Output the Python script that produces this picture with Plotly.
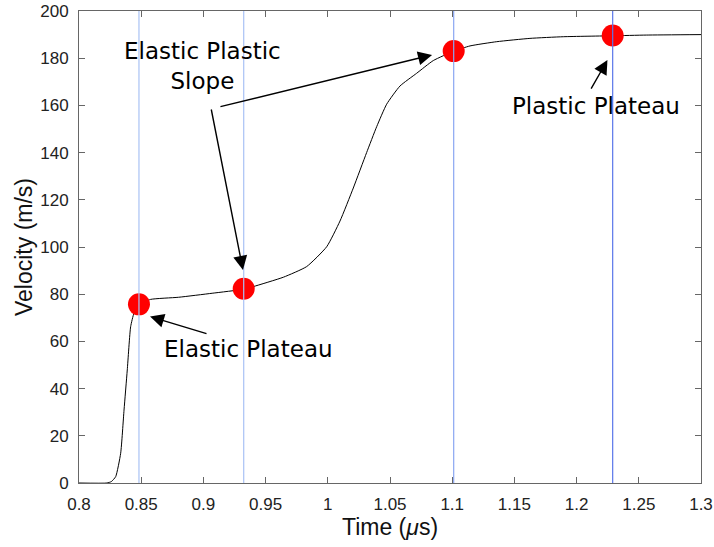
import plotly.graph_objects as go

# ---- data ----
time_us = [0.800, 0.8225, 0.826, 0.8295, 0.8335, 0.8362, 0.8388, 0.8415, 0.8442, 0.8482,
           0.8576, 0.880, 0.907, 0.9324, 0.940, 0.9643, 0.983, 0.9991, 1.0098, 1.0205,
           1.0312, 1.0393, 1.0473, 1.058, 1.0714, 1.0848, 1.1014, 1.1143, 1.1358, 1.1625,
           1.1893, 1.229, 1.256, 1.300]
velocity = [0.0, 0.0, 0.6, 2.7, 12.6, 30.9, 47.9, 66.2, 72.0, 75.7,
            77.8, 78.7, 80.4, 82.1, 83.2, 87.2, 91.7, 100.1, 111.0, 125.0,
            140.0, 151.0, 160.5, 168.2, 173.6, 179.0, 183.0, 185.2, 187.0, 188.4,
            189.1, 189.5, 189.8, 190.0]

key_t = [0.8482, 0.9324, 1.1012, 1.229]
key_v = [75.7, 82.3, 183.0, 189.6]
vline_colors = ["#a9c2f5", "#a9c2f5", "#8aa6f2", "#5a76ea"]

labels = ["Elastic Plastic<br>Slope", "Elastic Plateau", "Plastic Plateau"]
label_t = [0.8989, 0.9359, 1.2153]
label_v = [176.5, 56.6, 159.8]

# arrows: tail (t, v) -> head (t, v)
arrow_tail_t = [0.9125, 0.9061, 0.9037, 1.2110]
arrow_tail_v = [159.3, 158.9, 63.1, 166.5]
arrow_head_t = [1.0838, 0.9318, 0.8571, 1.2248]
arrow_head_v = [181.4, 90.3, 70.5, 179.2]

x_ticks = [0.8, 0.85, 0.9, 0.95, 1.0, 1.05, 1.1, 1.15, 1.2, 1.25, 1.3]
x_tick_text = ["0.8", "0.85", "0.9", "0.95", "1", "1.05", "1.1", "1.15", "1.2", "1.25", "1.3"]
y_ticks = list(range(0, 201, 20))

fig = go.Figure()
fig.add_trace(go.Scatter(x=time_us, y=velocity, mode="lines",
                         line=dict(color="black", width=1, shape="spline", smoothing=0.5),
                         showlegend=False, hoverinfo="skip"))
fig.add_trace(go.Scatter(x=key_t, y=key_v, mode="markers",
                         marker=dict(color="#ff0000", size=22, line=dict(width=0)),
                         showlegend=False))

for t, c in zip(key_t, vline_colors):
    fig.add_shape(type="line", xref="x", yref="y", x0=t, x1=t, y0=0, y1=200,
                  line=dict(color=c, width=1.2), layer="above")

for txt, t, v in zip(labels, label_t, label_v):
    fig.add_annotation(x=t, y=v, xref="x", yref="y", text=txt, showarrow=False,
                       font=dict(family="DejaVu Sans", size=23, color="black"),
                       xanchor="center", yanchor="middle", align="center")

for tt, tv, ht, hv in zip(arrow_tail_t, arrow_tail_v, arrow_head_t, arrow_head_v):
    fig.add_annotation(x=ht, y=hv, ax=tt, ay=tv, xref="x", yref="y", axref="x", ayref="y",
                       text="", showarrow=True, arrowhead=2, arrowsize=2,
                       arrowwidth=1.4, arrowcolor="black", standoff=0, startstandoff=0)

axis_common = dict(showline=True, linecolor="#666666", linewidth=1, mirror="ticks",
                   ticks="inside", ticklen=6, tickcolor="#666666", tickwidth=1,
                   showgrid=False, zeroline=False,
                   tickfont=dict(family="Liberation Sans", size=17, color="#222222"))

fig.update_xaxes(range=[0.8, 1.3], tickvals=x_ticks, ticktext=x_tick_text,
                 title=dict(text="Time (<i>μ</i>s)", font=dict(family="Liberation Sans", size=23, color="#111111"),
                            standoff=0),
                 ticklabelstandoff=6, **axis_common)
fig.update_yaxes(range=[0, 200], tickvals=y_ticks,
                 title=dict(text="Velocity (m/s)", font=dict(family="Liberation Sans", size=23, color="#111111"),
                            standoff=1),
                 ticklabelstandoff=6, **axis_common)

fig.update_layout(width=714, height=547, margin=dict(l=79, r=13, t=11, b=64, autoexpand=False),
                  plot_bgcolor="white", paper_bgcolor="white", showlegend=False)

fig.write_html("out.html")
